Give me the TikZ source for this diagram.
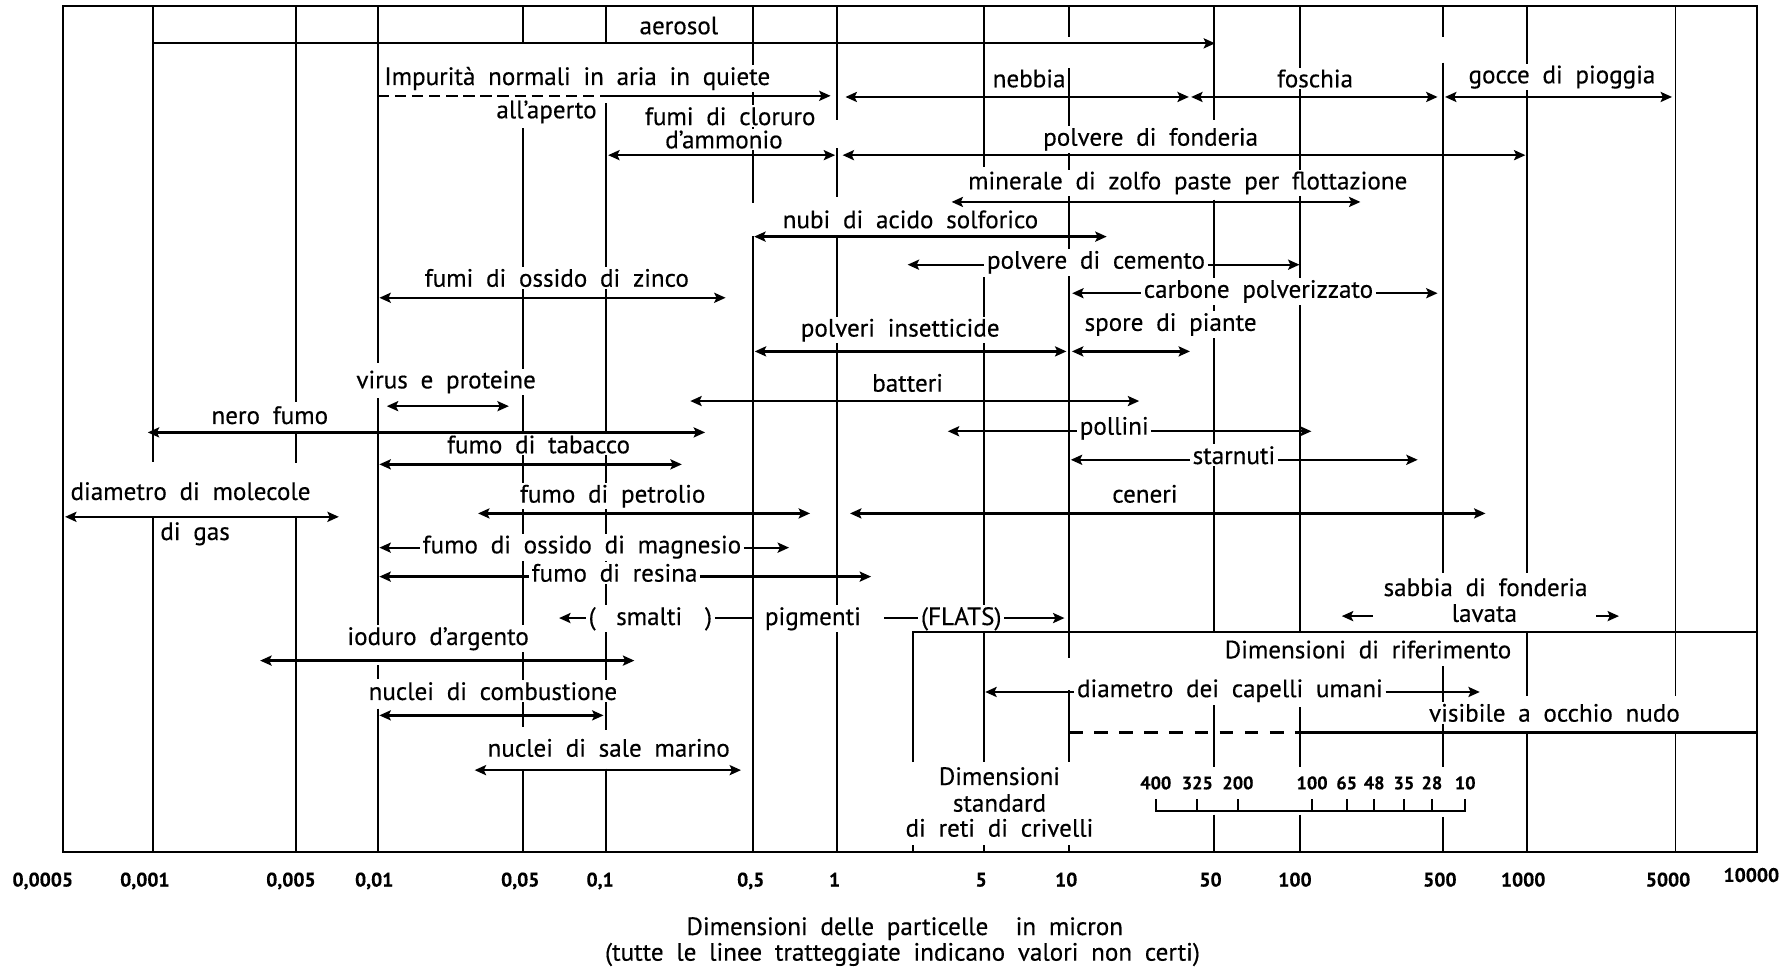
\documentclass[tikz,border=0pt]{standalone}
\usepackage{fontspec}
\setmainfont{PT Sans}[WordSpace=1.9,FakeBold=0.35]
\usetikzlibrary{arrows.meta}
\newcommand\mylbl{\fontsize{11}{13}\selectfont}
\newcommand\myax{\fontsize{8.6}{10}\selectfont\bfseries}
\newcommand\mysv{\fontsize{8}{9}\selectfont\bfseries}
\begin{document}
\begin{tikzpicture}[x=0.5pt,y=-0.5pt,
  >={Stealth[length=5pt,width=4.4pt,inset=1pt]},
  gridl/.style={line width=0.85pt},
  conn/.style={line width=1pt},
  lab/.style={fill=white,inner xsep=1pt,inner ysep=0.8pt,anchor=base,font=\mylbl},
  axl/.style={anchor=base,inner sep=0pt,font=\myax},
  svl/.style={anchor=base,inner sep=0pt,font=\mysv},
  unsure/.style={conn,dash pattern=on 5pt off 2.5pt},
  unsurewide/.style={conn,dash pattern=on 6pt off 5pt}]
\useasboundingbox (0,0) rectangle (1568,849);
% frame and grid (gaps as in the original drawing)
\draw[gridl] (55.5,5.5) rectangle (1540,747);
\draw[gridl]
  (134,5.5)--(134,404.6) (134,453)--(134,747)
  (259.5,5.5)--(259.5,352) (259.5,379.6)--(259.5,406) (259.5,453)--(259.5,747)
  (331,5.5)--(331,318) (331,349)--(331,549) (331,583)--(331,595) (331,621)--(331,747)
  (458,5.5)--(458,38) (458,112.6)--(458,637) (458,675)--(458,747)
  (531,5.5)--(531,38) (531,90.6)--(531,640) (531,673.6)--(531,747)
  (660,5.5)--(660,178) (660,207)--(660,747)
  (734,5.5)--(734,105) (734,130)--(734,172.5) (734,207.5)--(734,747)
  (862.5,5.5)--(862.5,146) (862.5,243)--(862.5,668) (862.5,741)--(862.5,747)
  (937,5.5)--(937,32) (937,60)--(937,577) (937,605)--(937,668) (937,741)--(937,747)
  (1064,5.5)--(1064,105) (1064,175)--(1064,554) (1064,618)--(1064,672) (1064,714)--(1064,747)
  (1139,5.5)--(1139,554) (1139,620)--(1139,672) (1139,714)--(1139,747)
  (1264.5,5.5)--(1264.5,32) (1264.5,55)--(1264.5,502) (1264.5,584)--(1264.5,672) (1264.5,716)--(1264.5,747)
  (1338.5,5.5)--(1338.5,502) (1338.5,554)--(1338.5,610) (1338.5,642)--(1338.5,747)
  (1468.5,5.5)--(1468.5,610) (1468.5,642)--(1468.5,747)
  (800,741)--(800,747);

% labels
\node[lab] (aerosol) at (595,30) {aerosol};
\node[lab] (impur) at (506,74.5) {Impurità normali in aria in quiete};
\node[lab] (aperto) at (479,103.7) {all'aperto};
\node[lab] (nebbia) at (902,76.5) {nebbia};
\node[lab] (foschia) at (1152.6,76.5) {foschia};
\node[lab] (gocce) at (1369,73) {gocce di pioggia};
\node[lab] (cloruro) at (640,109.6) {fumi di cloruro};
\node[lab] (ammonio) at (634.5,130) {d'ammonio};
\node[lab] (fonderia) at (1008.5,127.7) {polvere di fonderia};
\node[lab] (zolfo) at (1041,166) {minerale di zolfo paste per flottazione};
\node[lab] (nubi) at (798,200) {nubi di acido solforico};
\node[lab] (cemento) at (960.6,235.5) {polvere di cemento};
\node[lab] (carbone) at (1103,261) {carbone polverizzato};
\node[lab] (zinco) at (488,251.3) {fumi di ossido di zinco};
\node[lab] (insett) at (789,295) {polveri insetticide};
\node[lab] (spore) at (1026,290) {spore di piante};
\node[lab] (virus) at (391,340.4) {virus e proteine};
\node[lab] (batteri) at (795.5,343.3) {batteri};
\node[lab] (nerofumo) at (236.5,371.6) {nero fumo};
\node[lab] (pollini) at (976.6,381) {pollini};
\node[lab] (tabacco) at (472,397.3) {fumo di tabacco};
\node[lab] (starnuti) at (1081.5,406.7) {starnuti};
\node[lab] (molecole) at (167,438.2) {diametro di molecole};
\node[lab] (digas) at (171,473.3) {di gas};
\node[lab] (petrolio) at (537,440.5) {fumo di petrolio};
\node[lab] (ceneri) at (1003.5,440.5) {ceneri};
\node[lab] (magnesio) at (510,485) {fumo di ossido di magnesio};
\node[lab] (resina) at (538.6,509.8) {fumo di resina};
\node[lab] (smalti) at (570,547.8) {(\hspace{9pt}smalti\hspace{10pt})};
\node[lab] (pigm) at (712.5,547.8) {pigmenti};
\node[lab] (flats) at (842.5,547.8) {(FLATS)};
\node[lab] (sabbia) at (1302,522.4) {sabbia di fonderia};
\node[lab] (lavata) at (1301,545) {lavata};
\node[lab] (ioduro) at (384,565.3) {ioduro d'argento};
\node[lab] (riferim) at (1199,577) {Dimensioni di riferimento};
\node[lab] (combust) at (432,613.5) {nuclei di combustione};
\node[lab] (capelli) at (1078,611) {diametro dei capelli umani};
\node[lab] (visibile) at (1362.4,632.5) {visibile a occhio nudo};
\node[lab] (salemar) at (533.5,663.2) {nuclei di sale marino};
\node[lab] (dimstdA) at (876,688) {Dimensioni};
\node[lab] (dimstdB) at (876,711.4) {standard};
\node[lab] (dimstdC) at (876,733.3) {di reti di crivelli};
\node[lab] (capA) at (793,819.5) {Dimensioni delle particelle\hspace{12pt}in micron};
\node[lab] (capB) at (791,842) {(tutte le linee tratteggiate indicano valori non certi)};

% axis values
\node[axl] (tA) at (37.5,777) {0,0005};
\node[axl] (tB) at (127,777) {0,001};
\node[axl] (tC) at (255,777) {0,005};
\node[axl] (tD) at (328,777) {0,01};
\node[axl] (tE) at (456,777) {0,05};
\node[axl] (tF) at (526,777) {0,1};
\node[axl] (tG) at (658,777) {0,5};
\node[axl] (tH) at (731.5,777) {1};
\node[axl] (tI) at (860,777) {5};
\node[axl] (tJ) at (934.5,777) {10};
\node[axl] (tK) at (1061,777) {50};
\node[axl] (tL) at (1135,777) {100};
\node[axl] (tM) at (1262,777) {500};
\node[axl] (tN) at (1335,777) {1000};
\node[axl] (tO) at (1462,777) {5000};
\node[axl] (tP) at (1535,773) {10000};

% sieve scale
\foreach \sx/\sl in {1013/400,1049.4/325,1085/200,1150/100,1180.3/65,1204.4/48,1230.5/35,1255/28,1284.2/10}
  {\node[svl] (sv\sl) at (\sx,691.8) {\sl};}
\draw[conn] (1013,700.5) -- (1013,711) -- (1284.2,711) -- (1284.2,700.5);
\foreach \sx in {1049.4,1085,1150,1180.3,1204.4,1230.5,1255}
  \draw[conn] (\sx,711) -- (\sx,700.5);

% reference-dimension frame
\coordinate (rfA) at (800,668);
\coordinate (rfB) at (800,554);
\coordinate (rfC) at (1540,554);
\draw[gridl] (rfA) -- (rfB) -- (rfC);

% range arrows
\coordinate (aeroL) at (134,38);   \coordinate (aeroR) at (1065,38);
\draw[conn,->] (aeroL) -- (aeroR);
\coordinate (impL) at (331,84); \coordinate (impM) at (531,84); \coordinate (impR) at (728,84);
\draw[unsure] (impL) -- (impM);
\draw[conn,->] (impM) -- (impR);
\coordinate (nebL) at (741,85); \coordinate (nebR) at (1042,85);
\draw[conn,<->] (nebL) -- (nebR);
\coordinate (fosL) at (1044,85); \coordinate (fosR) at (1260,85);
\draw[conn,<->] (fosL) -- (fosR);
\coordinate (gocL) at (1266.5,85); \coordinate (gocR) at (1465.5,85);
\draw[conn,<->] (gocL) -- (gocR);
\coordinate (cloL) at (533,136); \coordinate (cloR) at (732,136);
\draw[conn,<->] (cloL) -- (cloR);
\coordinate (fonL) at (738.5,136); \coordinate (fonR) at (1337,136);
\draw[conn,<->] (fonL) -- (fonR);
\coordinate (zolL) at (834,177); \coordinate (zolR) at (1192.4,177);
\draw[conn,<->] (zolL) -- (zolR);
\coordinate (nubL) at (661,207.4); \coordinate (nubR) at (970,207.4);
\draw[conn,<->] (nubL) -- (nubR);
\coordinate (cemL) at (795.5,232); \coordinate (cemR) at (1139,232);
\draw[conn,<-] (cemL) -- (cemL -| cemento.west);
\draw[conn,->] (cemR -| cemento.east) -- (cemR);
\coordinate (carL) at (939.7,257); \coordinate (carR) at (1260,257);
\draw[conn,<-] (carL) -- (carL -| carbone.west);
\draw[conn,->] (carR -| carbone.east) -- (carR);
\coordinate (zinL) at (332.5,261); \coordinate (zinR) at (636,261);
\draw[conn,<->] (zinL) -- (zinR);
\coordinate (insL) at (661.5,308); \coordinate (insR) at (934.7,308);
\draw[conn,<->] (insL) -- (insR);
\coordinate (spoL) at (939.5,308); \coordinate (spoR) at (1043,308);
\draw[conn,<->] (spoL) -- (spoR);
\coordinate (virL) at (339,356); \coordinate (virR) at (446,356);
\draw[conn,<->] (virL) -- (virR);
\coordinate (batL) at (605,351.5); \coordinate (batR) at (998.5,351.5);
\draw[conn,<->] (batL) -- (batR);
\coordinate (nerL) at (129.5,379); \coordinate (nerR) at (618,379);
\draw[conn,<->] (nerL) -- (nerR);
\coordinate (polL) at (830.7,378); \coordinate (polR) at (1149.4,378);
\draw[conn,<-] (polL) -- (polL -| pollini.west);
\draw[conn,->] (polR -| pollini.east) -- (polR);
\coordinate (tabL) at (332.5,407); \coordinate (tabR) at (597.6,407);
\draw[conn,<->] (tabL) -- (tabR);
\coordinate (staL) at (938.5,403); \coordinate (staR) at (1242.6,403);
\draw[conn,<-] (staL) -- (staL -| starnuti.west);
\draw[conn,->] (staR -| starnuti.east) -- (staR);
\coordinate (molL) at (57,453); \coordinate (molR) at (297,453);
\draw[conn,<->] (molL) -- (molR);
\coordinate (petL) at (419,450); \coordinate (petR) at (710,450);
\draw[conn,<->] (petL) -- (petR);
\coordinate (cenL) at (745,450); \coordinate (cenR) at (1302,450);
\draw[conn,<->] (cenL) -- (cenR);
\coordinate (magL) at (332.5,480); \coordinate (magR) at (691.6,480);
\draw[conn,<-] (magL) -- (magL -| magnesio.west);
\draw[conn,->] (magR -| magnesio.east) -- (magR);
\coordinate (resL) at (332.5,505.4); \coordinate (resR) at (763.5,505.4);
\draw[conn,<-] (resL) -- (resL -| resina.west);
\draw[conn,->] (resR -| resina.east) -- (resR);
\coordinate (smaL) at (490,541.7); \coordinate (smaR) at (660,541.7);
\coordinate (pigR) at (775,541.7); \coordinate (flaR) at (933,541.7);
\draw[conn,<-] (smaL) -- (smaL -| smalti.west);
\draw[conn] (smaR -| smalti.east) -- (smaR);
\draw[conn] (pigR) -- (pigR -| flats.west);
\draw[conn,->] (flaR -| flats.east) -- (flaR);
\coordinate (sabL) at (1176,540); \coordinate (sabLi) at (1203,540);
\coordinate (sabRi) at (1399,540); \coordinate (sabR) at (1419,540);
\draw[conn,->] (sabLi) -- (sabL);
\draw[conn,->] (sabRi) -- (sabR);
\coordinate (iodL) at (228,579); \coordinate (iodR) at (556,579);
\draw[conn,<->] (iodL) -- (iodR);
\coordinate (comL) at (332.5,627); \coordinate (comR) at (529,627);
\draw[conn,<->] (comL) -- (comR);
\coordinate (capL) at (863.5,606.5); \coordinate (capR) at (1297,606.5);
\draw[conn,<-] (capL) -- (capL -| capelli.west);
\draw[conn,->] (capR -| capelli.east) -- (capR);
\coordinate (visL) at (937,642); \coordinate (visM) at (1139,642); \coordinate (visR) at (1540,642);
\draw[unsurewide] (visL) -- (visM);
\draw[conn] (visM) -- (visR);
\coordinate (salL) at (416,675); \coordinate (salR) at (649.5,675);
\draw[conn,<->] (salL) -- (salR);
\end{tikzpicture}
\end{document}
